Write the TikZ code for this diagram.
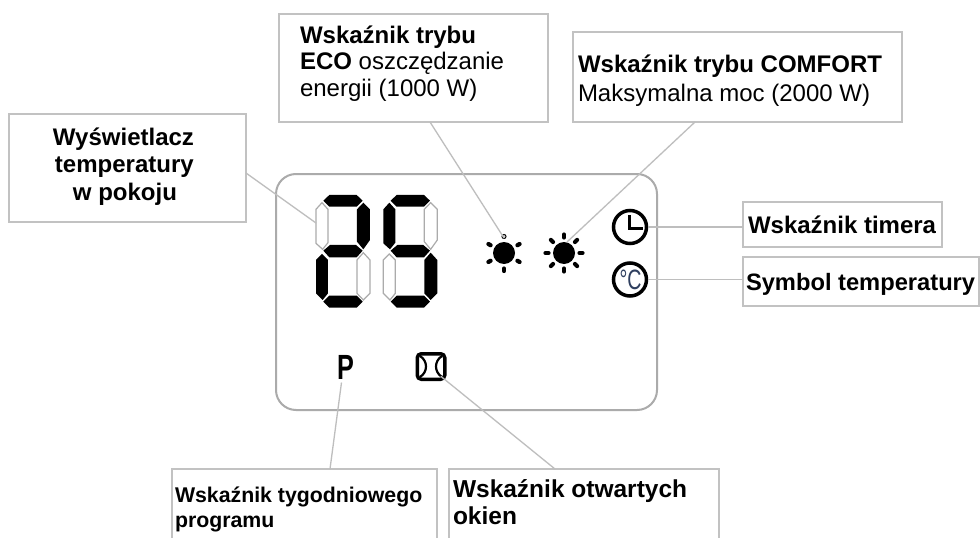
\documentclass[tikz,border=0pt]{standalone}
\usepackage{fontspec}
\usepackage{graphicx}
\setmainfont{Liberation Sans}
\definecolor{boxgray}{HTML}{C2C2C2}
\definecolor{lcdgray}{HTML}{ABABAB}
\definecolor{leadgray}{HTML}{BEBEBE}
\definecolor{unitblue}{HTML}{2F3F5F}
% width, height, font size, leading, first baseline offset, left inset, text
\newcommand{\lbox}[7]{\parbox[t][#2pt][t]{#1pt}{\fontsize{#3}{#4}\selectfont\parindent=0pt\leftskip=#6pt\rightskip=0pt plus 1fil\rule{0pt}{#5pt}#7\par}}
\newcommand{\wide}[2]{\scalebox{#1}[1]{#2}}
\tikzset{
  lbl/.style={draw=boxgray,line width=1.6pt,inner sep=0pt,outer sep=0pt,anchor=north west},
  lead/.style={draw=leadgray,line width=1.3pt},
  lcd/.style={draw=lcdgray,line width=2pt,rounded corners=20pt},
  on/.style={fill=black,draw=none},
  off/.style={draw=lcdgray,line width=1.2pt,fill=white},
  raya/.style={line width=4.2pt,line cap=round},
  sym/.style={circle,draw=black,line width=3.5pt,minimum size=33pt,inner sep=0pt,outer sep=1.7pt},
  sunbody/.style={circle,fill=black,minimum size=22pt,inner sep=0pt},
}
\begin{document}
\begin{tikzpicture}[x=1pt,y=-1pt]
\useasboundingbox (0,0) rectangle (980,538);
\fill[white] (0,0) rectangle (980,538);
% LCD frame
\draw[lcd] (276,174) rectangle (657,410);
% boxes
\node[lbl] (eco) at (279,14) {\lbox{269}{108}{24}{26.5}{29}{21}{\textbf{Wskaźnik trybu}\\\textbf{ECO} oszczędzanie\\energii (1000 W)}};
\node[lbl] (comfort) at (573,32) {\lbox{329}{90}{24}{29}{40}{5}{\textbf{Wskaźnik trybu COMFORT}\\Maksymalna moc (2000 W)}};
\node[lbl] (room) at (9,114) {\lbox{237}{108}{24}{27.5}{31}{0}{\hspace*{44pt}\textbf{Wyświetlacz}\\\hspace*{46pt}\textbf{temperatury}\\\hspace*{64pt}\textbf{w pokoju}}};
\node[lbl] (timer) at (743,202) {\lbox{199}{45}{24}{26}{31}{5}{\textbf{Wskaźnik timera}}};
\node[lbl] (temp) at (743,257) {\lbox{236}{49}{23.7}{26}{33}{3}{\textbf{Symbol temperatury}}};
\node[lbl] (week) at (172,469) {\lbox{265}{100}{21.3}{25}{33}{3}{\textbf{Wskaźnik tygodniowego}\\\textbf{programu}}};
\node[lbl] (window) at (449,469) {\lbox{270}{100}{24.5}{27}{28}{4}{\textbf{Wskaźnik otwartych}\\\textbf{okien}}};
% digits (coordinates in thirds of a pixel)
\begin{scope}[shift={(290,160)},x=0.3333pt,y=-0.3333pt]
\foreach \dx/\ul/\ur/\ll/\lr in {0/off/on/on/off,202/on/off/off/on}{
  \begin{scope}[shift={(\dx,0)}]
  \fill[on] (100,122)--(118,105)--(200,105)--(218,122)--(200,140)--(118,140)--cycle;
  \filldraw[\ur] (220,128)--(240,148)--(240,240)--(220,268)--(201,245)--(201,148)--cycle;
  \filldraw[\ul] (96,128)--(78,148)--(78,250)--(98,268)--(114,248)--(114,148)--cycle;
  \fill[on] (100,272)--(120,255)--(198,255)--(218,272)--(200,292)--(118,292)--cycle;
  \filldraw[\ll] (96,282)--(78,300)--(78,400)--(98,420)--(114,400)--(114,300)--cycle;
  \filldraw[\lr] (220,278)--(201,300)--(201,400)--(220,420)--(240,400)--(240,300)--cycle;
  \fill[on] (100,425)--(118,407)--(200,407)--(218,425)--(200,443)--(118,443)--cycle;
  \end{scope}
}
\end{scope}
\coordinate (seg) at (316,223);
% suns
\node[sunbody] (sunA) at (504,253) {};
\node[sunbody] (sunB) at (564,253) {};
\foreach \a in {30,90,150,210,330}{
  \draw[raya] (504,253)+(\a:15.5) -- +(\a:18);
}
\foreach \a in {0,45,90,135,180,225,270,315}{
  \draw[raya] (564,253)+(\a:15.5) -- +(\a:18.5);
}
\draw[line width=1pt,draw=black,fill=white!70!gray] (504,236.5) circle (2pt);
% clock
\node[sym] (clock) at (630,227) {};
\draw[line width=3pt] (629.3,215) -- (629.3,228) -- (643,228);
% degree
\node[sym] (deg) at (630,279.5) {};
\node[text=unitblue,inner sep=0pt] at (630.5,279.5) {\fontsize{28}{28}\selectfont\wide{0.7}{°C}};
% P and window
\node[inner sep=0pt] (prog) at (345.5,367.5) {\fontsize{35}{35}\selectfont\wide{0.72}{\textbf{P}}};
\node[draw=black,line width=3.5pt,rounded corners=4pt,minimum width=27.5pt,minimum height=25.5pt,inner sep=0pt,outer sep=0pt] (win) at (431,366.5) {};
\draw[line width=2.2pt] (420,356) .. controls (428,361) and (428,372) .. (420,377);
\draw[line width=2.2pt] (442,356) .. controls (434,361) and (434,372) .. (442,377);
% connectors
\draw[lead] ([yshift=-59pt]room.north east) -- (seg);
\draw[lead] ([xshift=151pt]eco.south west) -- ([yshift=15pt]sunA.center);
\draw[lead] ([xshift=122pt]comfort.south west) -- ([xshift=3pt,yshift=11pt]sunB.center);
\draw[lead] (clock.east) -- (clock.east -| timer.west);
\draw[lead] (deg.east) -- (deg.east -| temp.west);
\draw[lead] ([xshift=-4pt,yshift=-15pt]prog.center) -- ([xshift=158pt]week.north west);
\draw[lead] ([xshift=-4pt,yshift=3pt]win.south east) -- ([xshift=106pt]window.north west);
\end{tikzpicture}
\end{document}
